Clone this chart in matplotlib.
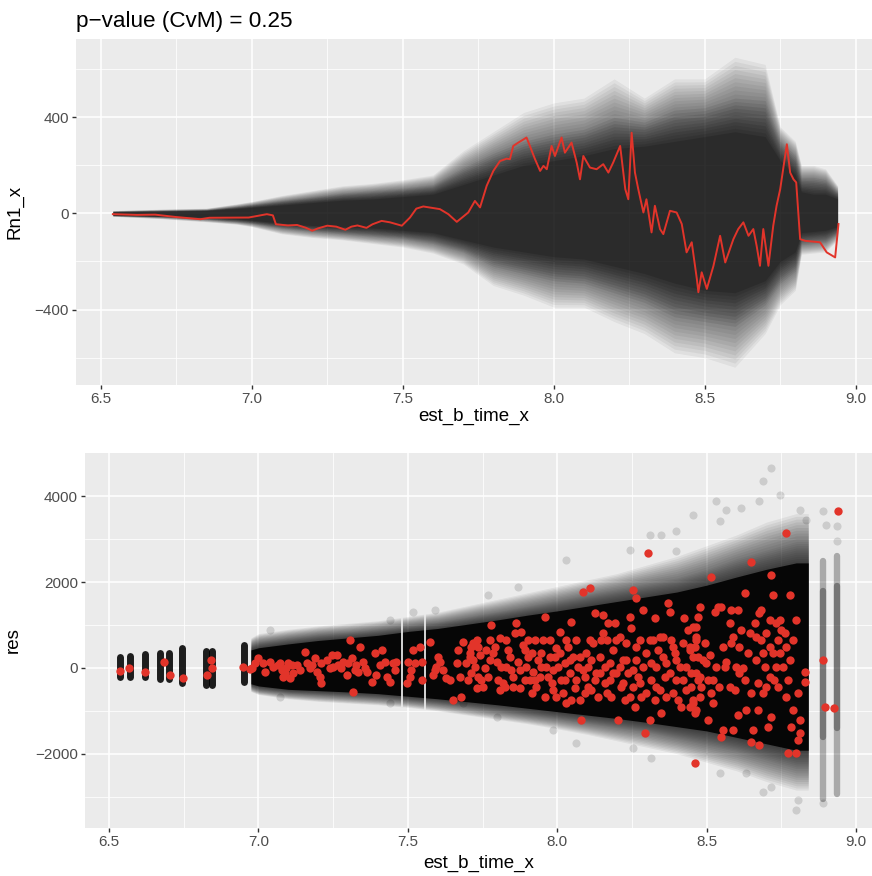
import matplotlib
matplotlib.use("Agg")
import matplotlib.pyplot as plt
import numpy as np

plt.rcParams['font.family'] = ['Liberation Sans', 'DejaVu Sans']

# ---------------- top panel data ----------------
red_x = [6.54, 6.62, 6.68, 6.75, 6.83, 6.86, 6.99, 7.02, 7.05, 7.07, 7.08, 7.12, 7.15, 7.18,
         7.20, 7.22, 7.25, 7.28, 7.31, 7.33, 7.35, 7.38, 7.40, 7.43, 7.458, 7.497, 7.524,
         7.545, 7.568, 7.623, 7.651, 7.679, 7.717, 7.739, 7.756, 7.778, 7.800, 7.822, 7.844,
         7.855, 7.866, 7.883, 7.910, 7.921, 7.938, 7.955, 7.966, 7.977, 7.993, 8.004, 8.026,
         8.037, 8.059, 8.076, 8.087, 8.098, 8.120, 8.142, 8.164, 8.181, 8.197, 8.220, 8.237,
         8.247, 8.258, 8.269, 8.280, 8.297, 8.307, 8.324, 8.335, 8.352, 8.363, 8.385, 8.407,
         8.424, 8.440, 8.457, 8.474, 8.479, 8.490, 8.507, 8.529, 8.551, 8.568, 8.595, 8.611,
         8.628, 8.645, 8.661, 8.672, 8.683, 8.694, 8.711, 8.727, 8.738, 8.750, 8.772, 8.783,
         8.794, 8.803, 8.816, 8.833, 8.882, 8.904, 8.932, 8.943]
red_y = [-3, -6, -5, -15, -24, -18, -17, -10, -3, -8, -45, -50, -48, -60,
         -72, -62, -51, -55, -68, -55, -50, -60, -45, -31, -37, -51, -17,
         20, 29, 18, -3, -35, 4, 52, 25, 115, 177, 218, 228,
         226, 281, 295, 316, 281, 226, 177, 198, 184, 281, 239, 316,
         253, 295, 212, 142, 239, 191, 184, 205, 170, 212, 281, 101,
         59, 336, 170, 101, 4, 59, -79, 32, -65, -86, 11, 4,
         -44, -162, -120, -273, -328, -245, -314, -218, -93, -204, -107, -65,
         -37, -93, -65, -135, -218, -65, -218, -51, 32, 101, 288, 170,
         142, 129, -107, -114, -120, -162, -183, -44]

env_x = [6.54, 6.70, 6.85, 6.95, 7.0, 7.1, 7.2, 7.3, 7.4, 7.5, 7.6, 7.7, 7.8, 7.9, 8.0,
         8.1, 8.2, 8.3, 8.4, 8.5, 8.6, 8.7, 8.75, 8.8, 8.82, 8.86, 8.9, 8.94]
outer_hi = [12, 18, 22, 40, 50, 75, 95, 115, 125, 140, 160, 260, 340, 420, 460,
            480, 560, 480, 560, 560, 650, 620, 360, 300, 200, 200, 185, 115]
outer_lo = [-12, -22, -35, -45, -55, -85, -100, -110, -125, -140, -165, -210, -300, -340, -390,
            -390, -450, -500, -580, -600, -640, -500, -380, -320, -170, -165, -160, -110]
mid_hi = [9, 13, 16, 30, 38, 55, 70, 85, 95, 105, 120, 190, 250, 300, 330,
          350, 400, 380, 430, 440, 480, 470, 300, 240, 150, 150, 140, 90]
mid_lo = [-9, -15, -25, -35, -42, -62, -75, -85, -95, -105, -125, -160, -220, -250, -280,
          -290, -330, -370, -430, -450, -470, -380, -290, -240, -130, -125, -120, -85]
core_hi = [7, 9, 12, 20, 25, 35, 45, 55, 60, 70, 80, 120, 160, 200, 220,
           240, 270, 280, 300, 320, 340, 320, 220, 160, 90, 80, 80, 60]
core_lo = [-7, -11, -16, -22, -28, -40, -50, -55, -60, -70, -80, -110, -140, -160, -180,
           -190, -220, -250, -290, -320, -330, -280, -200, -160, -80, -75, -70, -55]

# ---------------- bottom panel data ----------------
band_x = [6.975, 7.0, 7.1, 7.2, 7.3, 7.4, 7.5, 7.6, 7.7, 7.8, 7.9, 8.0, 8.1, 8.2, 8.3,
          8.4, 8.5, 8.6, 8.7, 8.8, 8.84]
bcore_hi = [420, 470, 560, 640, 700, 760, 850, 920, 1020, 1120, 1230, 1330, 1440, 1550, 1660,
            1770, 1930, 2120, 2300, 2450, 2450]
bcore_lo = [-370, -420, -500, -530, -560, -600, -660, -720, -790, -860, -940, -1020, -1100, -1180, -1270,
            -1370, -1470, -1620, -1770, -1920, -1920]
bmid_hi = [550, 620, 720, 800, 850, 920, 1000, 1080, 1200, 1320, 1450, 1580, 1720, 1850, 1980,
           2100, 2300, 2550, 2750, 2950, 2950]
bmid_lo = [-450, -520, -600, -640, -680, -720, -780, -850, -930, -1020, -1110, -1200, -1300, -1400, -1500,
           -1650, -1800, -1950, -2150, -2350, -2350]
bhaze_hi = [700, 800, 900, 980, 1040, 1100, 1200, 1300, 1450, 1600, 1750, 1900, 2050, 2200, 2400,
            2600, 2850, 3100, 3400, 3600, 3600]
bhaze_lo = [-550, -620, -720, -780, -820, -860, -920, -1000, -1100, -1200, -1300, -1420, -1550, -1700, -1850,
            -2000, -2200, -2400, -2650, -2850, -2850]
gap_x = [7.482, 7.557]
gap_lo = [-920, -1000]
gap_hi = [1200, 1300]

clus_x = [6.537, 6.570, 6.620, 6.672, 6.702, 6.744, 6.826, 6.846, 6.952]
clus_hi = [250, 280, 320, 350, 350, 460, 390, 390, 540]
clus_lo = [-210, -210, -210, -250, -250, -360, -400, -400, -330]

col_x = [8.889, 8.936]
col_hi = [2500, 2600]
col_lo = [-3050, -2950]
col_core_hi = [1800, 1900]
col_core_lo = [-1600, -1400]

out_x = [8.716, 8.688, 8.744, 8.532, 8.454, 8.544, 8.566, 8.616, 8.677, 8.811, 8.889, 8.900,
         8.833, 8.399, 8.348, 8.309, 8.399, 8.243, 8.031, 7.869, 7.769, 7.590, 8.688, 8.716,
         8.800, 8.806, 8.889, 8.633, 8.544, 8.315, 8.254, 8.064, 7.986, 7.797, 7.685, 7.038,
         7.440, 7.518, 7.072, 7.440, 8.936, 8.936]
out_y = [4661, 4349, 4038, 3883, 3572, 3416, 3688, 3727, 3883, 3688, 3649, 3338,
         3455, 3183, 3105, 3105, 2716, 2755, 2521, 1899, 1704, 1354, -2886, -2769,
         -3314, -3081, -3158, -2458, -2458, -2108, -1875, -1758, -1447, -1136, -824, 887,
         1120, 1315, -669, -825, 3300, 2950]

res_x = [6.537, 6.568, 6.620, 6.684, 6.703, 6.747, 6.829, 6.841, 6.846, 6.949, 6.972,
         6.977, 6.999, 7.016, 7.022, 7.039, 7.050, 7.066, 7.078, 7.083, 7.094, 7.100, 7.111,
         7.117, 7.105, 7.139, 7.156, 7.161, 7.172, 7.189, 7.195, 7.206, 7.211, 7.211, 7.228,
         7.239, 7.245, 7.262, 7.267, 7.278, 7.295, 7.301, 7.306, 7.312, 7.317, 7.323, 7.334,
         7.339, 7.351, 7.362, 7.379, 7.390, 7.395, 7.406, 7.412, 7.423, 7.429, 7.440, 7.457,
         7.462, 7.496, 7.501, 7.512, 7.518, 7.523, 7.540, 7.546, 7.546, 7.574, 7.585, 7.596,
         7.601, 7.607, 7.618, 7.629, 7.640, 7.652, 7.668, 7.674, 7.679, 7.685, 7.696, 7.707,
         7.713, 7.718, 7.730, 7.735,
         7.713, 7.724, 7.730, 7.741, 7.746, 7.758, 7.769, 7.774, 7.780, 7.785, 7.797, 7.808,
         7.813, 7.819, 7.824, 7.830, 7.836, 7.847, 7.852, 7.858, 7.863, 7.869, 7.875, 7.880,
         7.886, 7.897, 7.902, 7.908, 7.914, 7.919, 7.925, 7.936, 7.941, 7.947, 7.958, 7.958,
         7.964, 7.975, 7.981, 7.986, 7.992, 7.997, 8.008, 8.014, 8.020, 8.025, 8.031, 8.036,
         8.042, 8.047, 8.053, 8.059, 8.064, 8.070, 8.075, 8.081, 8.086, 8.092, 8.098, 8.103,
         8.109, 8.114, 8.120, 8.125, 8.131, 8.137, 8.142, 8.153, 8.153, 8.159, 8.165, 8.176,
         8.181, 8.187, 8.192, 8.198, 8.203, 8.209, 8.215, 8.220, 8.226, 8.231, 8.237, 8.243,
         8.248, 8.254, 8.254, 8.259, 8.265, 8.265, 8.270, 8.276, 8.282, 8.287, 8.293, 8.298,
         8.304, 8.309, 8.315, 8.321, 8.326, 8.326, 8.332, 8.337, 8.343, 8.348, 8.354, 8.360,
         8.365, 8.371, 8.376, 8.382, 8.387, 8.393, 8.399, 8.410, 8.415, 8.421, 8.426, 8.432,
         8.438, 8.443, 8.449, 8.454, 8.460, 8.465, 8.471, 8.471,
         8.454, 8.460, 8.465, 8.465, 8.471, 8.477, 8.449, 8.454, 8.460, 8.465, 8.477, 8.482,
         8.493, 8.499, 8.504, 8.504, 8.510, 8.516, 8.516, 8.521, 8.527, 8.532, 8.538, 8.543,
         8.549, 8.549, 8.555, 8.560, 8.566, 8.577, 8.582, 8.582, 8.588, 8.594, 8.599, 8.605,
         8.605, 8.610, 8.616, 8.621, 8.627, 8.627, 8.633, 8.638, 8.644, 8.649, 8.649, 8.649,
         8.655, 8.661, 8.666, 8.672, 8.672, 8.677, 8.677, 8.683, 8.683, 8.688, 8.694, 8.700,
         8.705, 8.711, 8.711, 8.716, 8.716, 8.722, 8.722, 8.727, 8.733, 8.738, 8.738, 8.744,
         8.750, 8.755, 8.761, 8.766, 8.766, 8.772, 8.772, 8.778, 8.778, 8.783, 8.789, 8.789,
         8.800, 8.800, 8.805, 8.805, 8.811, 8.811, 8.828, 8.828, 8.889, 8.895, 8.928, 8.939,
         7.707, 7.719, 7.735, 7.752, 7.763, 7.774, 7.791, 7.802, 7.808, 7.830, 7.841, 7.852,
         7.875, 7.891, 7.891, 7.902, 7.914, 7.925, 7.930, 7.947, 7.953, 7.969, 7.975, 7.986,
         7.997, 8.003, 8.008, 8.025, 8.031, 8.042, 8.047, 8.064, 8.075, 8.086, 8.092, 8.103,
         8.109, 8.114, 8.125, 8.142, 8.148, 8.159, 8.165, 8.170, 8.176, 8.187, 8.198, 8.209,
         8.220, 8.231, 8.243, 8.254, 8.265, 8.276, 8.287, 8.298, 8.309, 8.315, 8.332, 8.343,
         8.354, 8.365, 8.376, 8.387, 8.399, 8.404, 8.421, 8.432, 8.443, 8.454, 8.465, 8.477,
         6.988, 7.072, 7.089, 7.128, 7.178, 7.250, 7.284, 7.328, 7.356, 7.451, 7.507, 7.590,
         7.663, 7.702,
         8.443, 8.488, 8.521, 8.555, 8.577, 8.610, 8.666, 8.688, 8.700, 8.733, 8.744, 8.766,
         8.711, 8.588]
res_y = [-70, -8, -101, 148, -163, -226, -163, 187, 7, 30, -23,
         -8, 226, 109, -86, 148, 31, 70, -47, -202, -8, 109, 70,
         -124, -241, -47, 381, 109, -8, 226, -86, -202, -358, 109, 187,
         -8, 304, 304, 70, -8, -163, 109, 654, 226, -552, -47, -86,
         498, 148, -86, -319, 342, -163, 70, 420, 148, -202, -319, -47,
         148, -358, 148, -47, 420, 109, 498, -280, 148, 615, -163, 31,
         265, 148, -47, -241, -280, -747, 420, -202, -669, 615, 109, 265,
         -124, 576, -475, 498,
         498, 32, 654, 304, -280, -7, -202, 654, 1004, 343, 148, 693,
         32, -357, -435, 654, 421, -46, -202, 810, 1043, 148, -474, 849,
         537, 32, 265, -280, 343, -85, 654, 187, -202, 343, 1199, -669,
         32, 654, -357, -46, 265, 460, 849, -280, -591, 109, -824, 498,
         -124, 1082, 265, -474, 654, 32, -746, -1213, 1782, -202, 343, 32,
         1860, -513, 576, 1276, -124, -669, 265, 1238, 810, -357, 654, 109,
         -669, 421, 1043, -124, -1213, 732, -435, 187, -746, 576, -124, 1199,
         926, 1821, -435, -902, 1627, 187, -202, 654, -669, 1354, -1524, 343,
         2677, -1213, -280, 654, 1160, -746, 32, 421, -513, -1058, 732, -202,
         109, 1510, 1315, 654, -591, 343, -280, 32, -902, 576, 1160, -513,
         887, 421, -124, -824, -2225, 965, 1199, -280,
         965, 498, 731, -124, 265, 1432, -436, -747, -1058, -980, -202, -436,
         576, 109, -280, -1214, 304, 2132, -591, -825, 1315, 31, 1432, -436,
         1432, -1603, -1447, 31, 148, 1043, 1354, 576, -1447, -513, 31, 1354,
         -1097, 498, 887, -8, 1743, -280, -980, 342, 809, 2482, -591, -1719,
         -1447, 1043, 187, -358, -980, 1276, -1797, 654, 1354, -591, 31, 809,
         -1369, 498, -202, 2171, -1136, 1704, 342, -280, 1043, 654, -436, 1121,
         887, 31, 809, 3143, -669, -280, -1992, 1704, 187, -1369, 654, -980,
         -1992, 1121, -1680, -591, -1214, -1525, -86, -319, 187, -903, -941, 3649,
         343, 187, -202, -435, 421, 187, 498, -280, -513, 32, 265, -435,
         -46, 421, -280, 654, -591, -280, -435, 32, 654, -202, 265, -513,
         -669, 32, 343, -280, 654, 187, -746, -280, 265, -46, -591, -435,
         654, 187, -280, -124, 654, 32, -591, 1043, -280, -124, 654, 32,
         -357, 187, -669, -46, 498, -357, 32, -591, 654, 109, -435, 732,
         265, -669, -124, 498, 187, -746, -280, 32, -902, 265, 654, -669,
         109, 109, -124, 70, 70, 31, 148, 70, -8, 109, -202, -47,
         109, -280,
         498, 187, -280, 498, -436, -124, 731, 342, -436, 31, 342, 498,
         1121, 731]

x_ticks = [6.5, 7.0, 7.5, 8.0, 8.5, 9.0]
x_ticklabels = ["6.5", "7.0", "7.5", "8.0", "8.5", "9.0"]
top_yticks = [-400, 0, 400]
bot_yticks = [-2000, 0, 2000, 4000]

RED = '#E2342A'
BG = '#EBEBEB'

fig = plt.figure(figsize=(8.72, 8.76), dpi=100)
ax1 = fig.add_axes([76/872, 1-385/876, 796/872, 346/876])
ax2 = fig.add_axes([85/872, 1-828/876, 787/872, 375/876])


def style(ax, yticks, yminor, xlim, ylim):
    ax.set_facecolor(BG)
    for s in ax.spines.values():
        s.set_visible(False)
    ax.set_xlim(*xlim)
    ax.set_ylim(*ylim)
    ax.set_xticks(x_ticks)
    ax.set_xticklabels(x_ticklabels)
    ax.set_xticks([6.75, 7.25, 7.75, 8.25, 8.75], minor=True)
    ax.set_yticks(yticks)
    ax.set_yticks(yminor, minor=True)
    ax.grid(which='major', color='white', linewidth=1.1, zorder=0)
    ax.grid(which='minor', color='white', linewidth=0.55, zorder=0)
    ax.set_axisbelow(True)
    ax.tick_params(which='major', length=3, width=1, color='#333333',
                   labelsize=11, labelcolor='#4D4D4D', pad=2)
    ax.tick_params(which='minor', length=0)


def graded_fill(ax, x, env_list, steps, alpha):
    """Blend between successive read envelopes (outermost first) with stacked light fills."""
    x = np.asarray(x, float)
    for (lo_a, hi_a), (lo_b, hi_b) in zip(env_list[:-1], env_list[1:]):
        lo_a, hi_a, lo_b, hi_b = map(np.asarray, (lo_a, hi_a, lo_b, hi_b))
        for t in np.linspace(0, 1, steps, endpoint=False):
            lo = lo_a + (lo_b - lo_a) * t
            hi = hi_a + (hi_b - hi_a) * t
            ax.fill_between(x, lo, hi, color='black', alpha=alpha, linewidth=0, zorder=2)


style(ax1, top_yticks, [-600, -200, 200, 600], (6.418, 9.054), (-714, 726))
style(ax2, bot_yticks, [-3000, -1000, 1000, 3000], (6.4197, 9.0535), (-3734, 5013))

# top panel: simulated path envelopes (graded)
graded_fill(ax1, env_x, [(outer_lo, outer_hi), (mid_lo, mid_hi), (core_lo, core_hi)], 10, 0.05)
graded_fill(ax1, env_x, [(mid_lo, mid_hi), (core_lo, core_hi)], 10, 0.03)
ax1.fill_between(env_x, core_lo, core_hi, color='black', alpha=0.15, linewidth=0, zorder=2)
ax1.plot(red_x, red_y, color=RED, linewidth=1.4, zorder=4)

ax1.set_xlabel('est_b_time_x', fontsize=13.5, color='black')
ax1.set_ylabel('Rn1_x', fontsize=13.5, color='black')
ax1.xaxis.set_label_coords(0.5, -0.066)
ax1.xaxis.label.set_va('top')
ax1.yaxis.set_label_coords(-0.066, 0.5)

# bottom panel
graded_fill(ax2, band_x, [(bhaze_lo, bhaze_hi), (bmid_lo, bmid_hi), (bcore_lo, bcore_hi)], 10, 0.06)
ax2.fill_between(band_x, bcore_lo, bcore_hi, color='black', alpha=0.9, linewidth=0, zorder=2)
ax2.vlines(gap_x, gap_lo, gap_hi, color=BG, linewidth=1.4, alpha=0.9, zorder=2.5)
ax2.vlines(clus_x, clus_lo, clus_hi, color='black', linewidth=5, alpha=0.88,
           capstyle='round', zorder=2)
ax2.vlines(col_x, col_lo, col_hi, color='black', linewidth=4.6, alpha=0.28,
           capstyle='round', zorder=2)
ax2.vlines(col_x, col_core_lo, col_core_hi, color='black', linewidth=4.6, alpha=0.3,
           capstyle='round', zorder=2)
ax2.scatter(out_x, out_y, s=34, color='black', alpha=0.13, linewidths=0, zorder=2)
ax2.scatter(res_x, res_y, s=36, color=RED, linewidths=0, zorder=4)

ax2.set_xlabel('est_b_time_x', fontsize=13.5, color='black')
ax2.set_ylabel('res', fontsize=13.5, color='black')
ax2.xaxis.set_label_coords(0.5, -0.072)
ax2.xaxis.label.set_va('top')
ax2.yaxis.set_label_coords(-0.080, 0.5)

fig.text(76/872, 1-27/876, 'p\u2212value (CvM) = 0.25', fontsize=16.2, color='black',
         ha='left', va='baseline')

fig.savefig('out.png', dpi=100)
